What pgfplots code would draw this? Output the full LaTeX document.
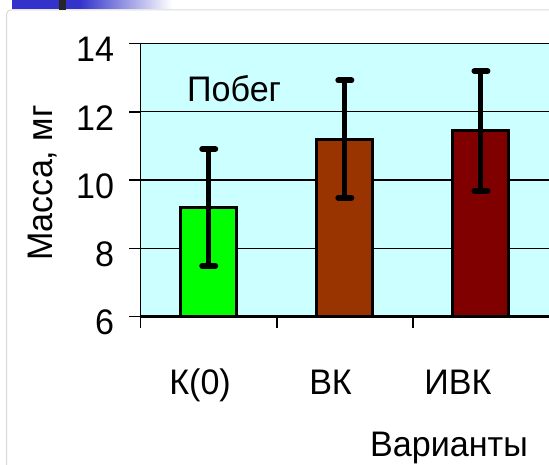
\documentclass[border=0pt]{standalone}
\usepackage{pgfplots}
\pgfplotsset{compat=1.18}
\usepackage{fontspec}
\setmainfont{Liberation Sans}[FakeStretch=0.96]
\definecolor{bgc}{HTML}{CCFFFF}
\definecolor{cgreen}{HTML}{00FF00}
\definecolor{cbrown}{HTML}{993300}
\definecolor{cdred}{HTML}{800000}
\definecolor{cblue}{HTML}{3333CC}
\newcommand\bigf{\fontsize{35.5}{42}\selectfont}
\begin{document}
\begin{tikzpicture}[x=1pt,y=1pt]
\useasboundingbox (0,0) rectangle (549,465);
\draw[black!15, line width=1pt, rounded corners=4pt] (6.7,-5) -- (6.7,455) -- (560,455);
\fill[cblue] (12,456) rectangle (80,465);
\shade[left color=cblue,right color=white] (79.5,456) rectangle (172,465);
\fill[black!85] (59,455) rectangle (66,465);
\begin{axis}[
  at={(140.7pt,148.3pt)}, anchor=south west,
  scale only axis, width=408.3pt, height=273.2pt,
  xmin=-0.5, xmax=2.5, ymin=6, ymax=14,
  ytick={6,8,10,12,14},
  ymajorgrids, grid style={black, line width=1.3pt},
  axis x line*=bottom, axis y line*=left,
  y axis line style={line width=1.6pt},
  x axis line style={line width=2.5pt},
  axis background/.style={fill=bgc},
  tick align=outside, major tick length=11.5pt, minor tick length=11.5pt,
  tick style={black, line width=1.5pt},
  xtick={-0.064,0.895,1.831},
  xticklabels={К(0),ВК,ИВК},
  major x tick style={draw=none},
  minor xtick={-0.5,0.5,1.5},
  /pgf/number format/assume math mode=true,
  yticklabel style={font=\bigf, inner sep=0pt, anchor=east, xshift=-15pt, yshift=-6pt},
  xticklabel style={font=\bigf, inner sep=0pt, anchor=base, yshift=-66pt},
  xlabel={Варианты},
  xlabel style={font=\bigf, at={(axis description cs:0.5616,-0.5125)}, anchor=base west, inner sep=0pt},
  ylabel={Масса, мг},
  ylabel style={font=\bigf, at={(axis description cs:-0.2148,0.4894)}, anchor=base, inner sep=0pt},
  every axis plot/.append style={ybar, bar width=56pt, bar shift=0pt, draw=black, line width=3pt,
    error bars/y dir=both, error bars/y explicit,
    error bars/error bar style={line width=5pt, black},
    error bars/error mark options={rotate=90, black, line width=6pt, mark size=6.5pt, line cap=round}},
]
\addplot[fill=cgreen] coordinates {(0,9.2) +- (0,1.71)};
\addplot[fill=cbrown] coordinates {(1,11.2) +- (0,1.72)};
\addplot[fill=cdred] coordinates {(2,11.44) +- (0,1.75)};
\node[font=\bigf, anchor=base west, inner sep=0pt] at (axis cs:-0.16,12.30) {Побег};
\end{axis}
\end{tikzpicture}
\end{document}
